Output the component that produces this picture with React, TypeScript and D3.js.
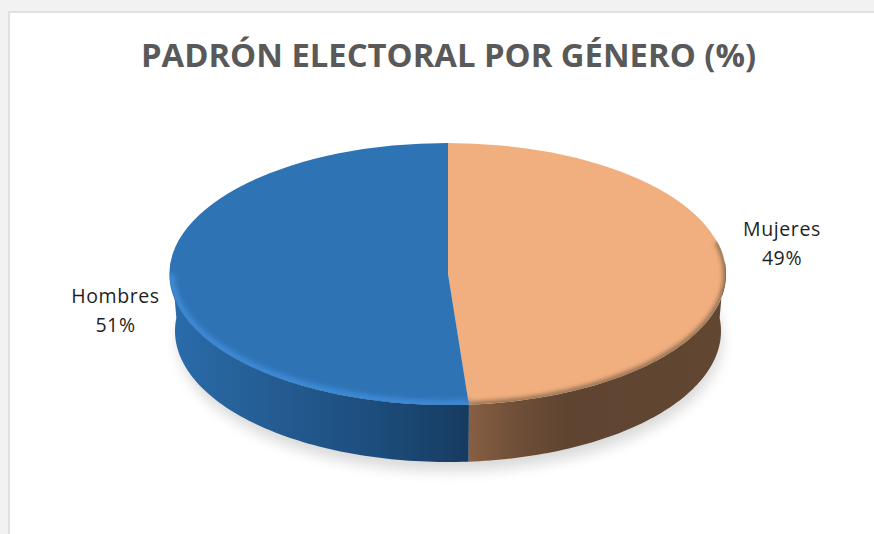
import React from "react";
import * as d3 from "d3";

const title = "PADRÓN ELECTORAL POR GÉNERO (%)";
const categories = ["Mujeres", "Hombres"];
const shares = [48.8, 51.2];
const topColors = ["#f1ae7f", "#2e74b5"];
const rimColors = ["#94714f", "#3c88d4"];

const W = 874, H = 534;
const cx = 448, cy = 274, rx = 278, ry = 131, depth = 57, inset = 5;

const slices = d3.pie<number>().sort(null)(shares);
const unitArc = d3.arc<d3.PieArcDatum<number>>().innerRadius(0).outerRadius(1);

const px = (a: number, r = rx) => cx + r * Math.sin(a);
const py = (a: number) => cy - ry * Math.cos(a);

// Side wall: the front part of the ellipse rim, extruded downwards and slightly narrowed
function sidePath(a0: number, a1: number) {
  const lo = Math.max(a0, Math.PI / 2 - 0.1);
  const hi = Math.min(a1, (3 * Math.PI) / 2 + 0.1);
  if (hi <= lo) return "";
  const n = 80;
  const angles = d3.range(n + 1).map((i) => lo + ((hi - lo) * i) / n);
  const line = d3.line<[number, number]>();
  const top = angles.map((a) => [px(a), py(a)] as [number, number]);
  const bottom = angles
    .slice()
    .reverse()
    .map((a) => [px(a, rx - inset), py(a) + depth] as [number, number]);
  return line([...top, ...bottom]) + "Z";
}

function rimPath(a0: number, a1: number) {
  const n = 80;
  const angles = d3.range(n + 1).map((i) => a0 + ((a1 - a0) * i) / n);
  return d3.line<number>().x((a) => px(a)).y(py)(angles) || "";
}

export default function App() {
  const labelFont = "'Open Sans', sans-serif";
  const splitX = px(slices[0].endAngle);
  const rimStart = [Math.PI * 0.42, slices[1].startAngle];
  const rimEnd = [slices[0].endAngle, Math.PI * 1.5];
  return (
    <svg
      width={W}
      height={H}
      viewBox={`0 0 ${W} ${H}`}
      style={{ position: "absolute", left: 0, top: 0 }}
    >
      <defs>
        <filter id="soft" x="-20%" y="-20%" width="140%" height="140%">
          <feGaussianBlur stdDeviation="7" />
        </filter>
        <filter id="rimBlur" x="-5%" y="-5%" width="110%" height="110%">
          <feGaussianBlur stdDeviation="2" />
        </filter>
        <linearGradient id="sideBlue" gradientUnits="userSpaceOnUse" x1={cx - rx} x2={splitX} y1="0" y2="0">
          <stop offset="0" stopColor="#2a6cab" />
          <stop offset="0.3" stopColor="#255e95" />
          <stop offset="0.7" stopColor="#1c4c7b" />
          <stop offset="1" stopColor="#173b60" />
        </linearGradient>
        <linearGradient id="sideBrown" gradientUnits="userSpaceOnUse" x1={splitX} x2={cx + rx} y1="0" y2="0">
          <stop offset="0" stopColor="#875f43" />
          <stop offset="0.18" stopColor="#6f4f38" />
          <stop offset="0.38" stopColor="#5f4431" />
          <stop offset="1" stopColor="#614632" />
        </linearGradient>
        <clipPath id="topClip">
          <ellipse cx={cx} cy={cy} rx={rx} ry={ry} />
        </clipPath>
      </defs>

      <rect x={0} y={0} width={W} height={H} fill="#f2f2f2" />
      <rect x={9} y={12} width={W} height={H} fill="#ffffff" stroke="#d9d9d9" strokeWidth={1.5} />

      <text
        x={448.5}
        y={67}
        textAnchor="middle"
        fontFamily={labelFont}
        fontWeight={700}
        fontSize={32.8}
        fill="#595959"
      >
        {title}
      </text>

      {/* soft drop shadow */}
      <ellipse cx={cx + 2} cy={cy + depth + 9} rx={rx - 6} ry={ry} fill="#000" opacity={0.15} filter="url(#soft)" />

      {/* side walls */}
      {slices.map((s, i) => (
        <path
          key={`side-${categories[i]}`}
          d={sidePath(s.startAngle, s.endAngle)}
          fill={i === 0 ? "url(#sideBrown)" : "url(#sideBlue)"}
        />
      ))}

      {/* top faces */}
      {slices.map((s, i) => (
        <path
          key={`top-${categories[i]}`}
          d={unitArc(s) || ""}
          transform={`translate(${cx},${cy}) scale(${rx},${ry})`}
          fill={topColors[i]}
        />
      ))}

      {/* bevel highlights on the front rim */}
      <g clipPath="url(#topClip)">
        {slices.map((s, i) => (
          <path
            key={`rim-${categories[i]}`}
            d={rimPath(rimStart[i], rimEnd[i])}
            fill="none"
            stroke={rimColors[i]}
            strokeWidth={i === 0 ? 6 : 10}
            filter="url(#rimBlur)"
          />
        ))}
      </g>

      {/* data labels */}
      <g fontFamily={labelFont} fontSize={19.5} letterSpacing={0.6} fill="#1f1f1f" textAnchor="middle">
        <text x={782} y={236}>{categories[0]}</text>
        <text x={782} y={265}>{Math.round(shares[0])}%</text>
        <text x={115.5} y={303}>{categories[1]}</text>
        <text x={115.5} y={332}>{Math.round(shares[1])}%</text>
      </g>
    </svg>
  );
}
